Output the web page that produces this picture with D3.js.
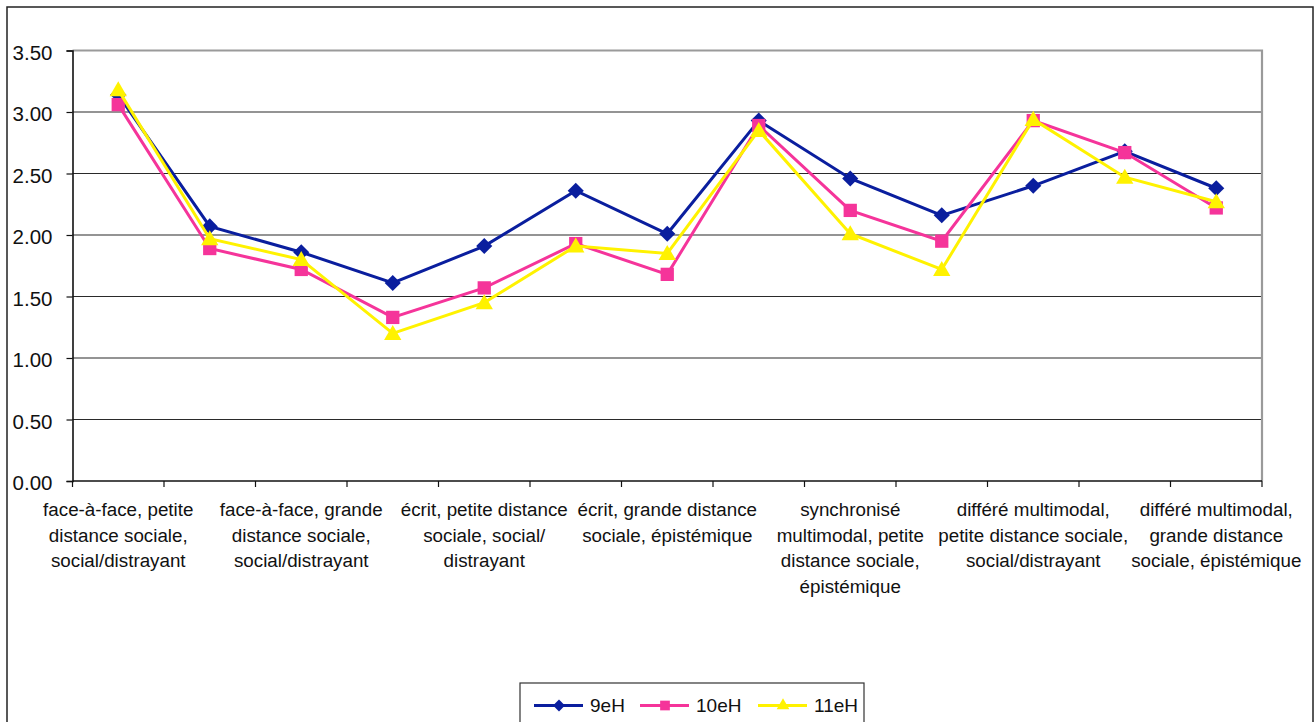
<!DOCTYPE html>
<html>
<head>
<meta charset="utf-8">
<script src="https://cdn.jsdelivr.net/npm/d3@7"></script>
<style>
  html, body { margin: 0; padding: 0; background: #fff; }
  svg { display: block; font-family: "Liberation Sans", Arial, sans-serif; }
</style>
</head>
<body>
<svg id="chart" width="1316" height="722"></svg>
<script>
// Categories (13). The axis prints only every other name; the others are left blank.
const categories = [
  ["face-à-face, petite", "distance sociale,", "social/distrayant"],
  [],
  ["face-à-face, grande", "distance sociale,", "social/distrayant"],
  [],
  ["écrit, petite distance", "sociale, social/", "distrayant"],
  [],
  ["écrit, grande distance", "sociale, épistémique"],
  [],
  ["synchronisé", "multimodal, petite", "distance sociale,", "épistémique"],
  [],
  ["différé multimodal,", "petite distance sociale,", "social/distrayant"],
  [],
  ["différé multimodal,", "grande distance", "sociale, épistémique"]
];

const seriesNames = ["9eH", "10eH", "11eH"];
const values9eH  = [3.14, 2.07, 1.86, 1.61, 1.91, 2.36, 2.01, 2.93, 2.46, 2.16, 2.40, 2.68, 2.38];
const values10eH = [3.06, 1.89, 1.72, 1.33, 1.57, 1.93, 1.68, 2.89, 2.20, 1.95, 2.93, 2.67, 2.22];
const values11eH = [3.18, 1.97, 1.80, 1.20, 1.45, 1.91, 1.85, 2.85, 2.01, 1.72, 2.94, 2.47, 2.27];
const yTicks = [0, 0.5, 1, 1.5, 2, 2.5, 3, 3.5];

const seriesColors = ["#0a1e9e", "#f5349a", "#fff200"];
const seriesShapes = [d3.symbolDiamond2, d3.symbolSquare2, d3.symbolTriangle2];
const seriesValues = [values9eH, values10eH, values11eH];
const markerSizes = [165, 225, 215];
const legendMarkerSizes = [90, 120, 115];

const svg = d3.select("#chart");
const plot = { left: 72.5, right: 1262, top: 50.5, bottom: 481 };

// outer chart frame
svg.append("rect")
  .attr("x", 7).attr("y", 7).attr("width", 1306).attr("height", 740)
  .attr("fill", "#fff").attr("stroke", "#222").attr("stroke-width", 1.5);

const x = d3.scaleBand()
  .domain(d3.range(categories.length))
  .range([plot.left, plot.right])
  .paddingInner(0).paddingOuter(0);

const y = d3.scaleLinear().domain([0, 3.5]).range([plot.bottom, plot.top]);

// horizontal gridlines
svg.append("g")
  .selectAll("line")
  .data(yTicks.filter(t => t > 0 && t < 3.5))
  .join("line")
  .attr("x1", plot.left).attr("x2", plot.right)
  .attr("y1", d => y(d)).attr("y2", d => y(d))
  .attr("stroke", "#2a2a2a").attr("stroke-width", 1.2);

// plot area frame: grey top and right edges
svg.append("path")
  .attr("d", `M${plot.left},${y(3.5)}H${plot.right}V${plot.bottom}`)
  .attr("fill", "none").attr("stroke", "#9a9a9a").attr("stroke-width", 2.2);

// Y axis
const yAxis = svg.append("g")
  .attr("transform", `translate(${plot.left},0)`)
  .call(d3.axisLeft(y).tickValues(yTicks).tickFormat(d3.format(".2f")).tickSize(6).tickPadding(14));
yAxis.select(".domain").attr("stroke", "#111").attr("stroke-width", 1.6);
yAxis.selectAll(".tick line").attr("stroke", "#111").attr("stroke-width", 1.2);
yAxis.selectAll(".tick text")
  .attr("font-size", 20.5).attr("fill", "#111")
  .attr("font-family", "Liberation Sans, Arial, sans-serif")
  .attr("dy", "0.42em");

// X axis: ticks at category boundaries
const boundaries = d3.range(categories.length + 1).map(i =>
  i < categories.length ? x(i) : x(categories.length - 1) + x.bandwidth());
const xAxisG = svg.append("g");
xAxisG.append("line")
  .attr("x1", plot.left).attr("x2", plot.right)
  .attr("y1", plot.bottom).attr("y2", plot.bottom)
  .attr("stroke", "#111").attr("stroke-width", 1.6);
xAxisG.selectAll("line.tick")
  .data(boundaries)
  .join("line").attr("class", "tick")
  .attr("x1", d => d).attr("x2", d => d)
  .attr("y1", plot.bottom).attr("y2", plot.bottom + 6)
  .attr("stroke", "#111").attr("stroke-width", 1.2);

// category labels, centred under each category
const labels = xAxisG.selectAll("text.cat")
  .data(categories.map((lines, i) => ({ lines, i })))
  .join("text").attr("class", "cat")
  .attr("text-anchor", "middle")
  .attr("font-size", 18.8).attr("fill", "#111")
  .attr("transform", d => `translate(${x(d.i) + x.bandwidth() / 2},516)`);
labels.selectAll("tspan")
  .data(d => d.lines)
  .join("tspan")
  .attr("x", 0)
  .attr("y", (d, j) => j * 25.5)
  .text(d => d);

// series lines and markers
const line = d3.line()
  .x((d, i) => x(i) + x.bandwidth() / 2)
  .y(d => y(d));

seriesValues.forEach((vals, s) => {
  const g = svg.append("g");
  g.append("path")
    .datum(vals)
    .attr("d", line)
    .attr("fill", "none")
    .attr("stroke", seriesColors[s])
    .attr("stroke-width", 3)
    .attr("stroke-linejoin", "miter");
  g.selectAll("path.marker")
    .data(vals)
    .join("path").attr("class", "marker")
    .attr("d", d3.symbol().type(seriesShapes[s]).size(markerSizes[s]))
    .attr("transform", (d, i) => `translate(${x(i) + x.bandwidth() / 2},${y(d) + (s === 2 ? 1.5 : 0)})`)
    .attr("fill", seriesColors[s]);
});

// legend
const legend = svg.append("g");
legend.append("rect")
  .attr("x", 520).attr("y", 683).attr("width", 344).attr("height", 60)
  .attr("fill", "#fff").attr("stroke", "#333").attr("stroke-width", 1.2);
const legendX = [534, 640, 758];
seriesNames.forEach((name, s) => {
  const lx = legendX[s];
  const cy = 705.5;
  legend.append("line")
    .attr("x1", lx).attr("x2", lx + 49)
    .attr("y1", cy).attr("y2", cy)
    .attr("stroke", seriesColors[s]).attr("stroke-width", 3);
  legend.append("path")
    .attr("d", d3.symbol().type(seriesShapes[s]).size(legendMarkerSizes[s]))
    .attr("transform", `translate(${lx + 25},${cy})`)
    .attr("fill", seriesColors[s]);
  legend.append("text")
    .attr("x", lx + 56).attr("y", cy + 6.5)
    .attr("font-size", 19).attr("fill", "#111")
    .text(name);
});
</script>
</body>
</html>
